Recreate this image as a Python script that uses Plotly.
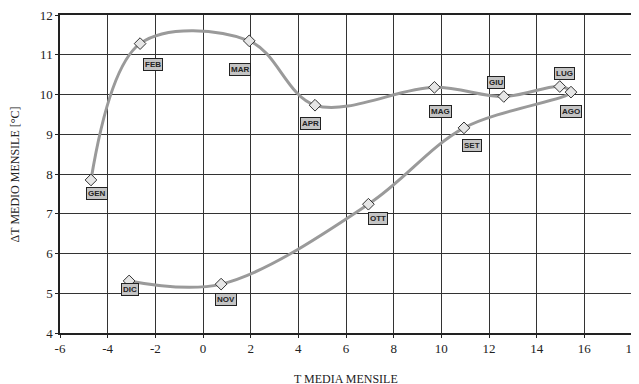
import plotly.graph_objects as go

months = ["GEN", "FEB", "MAR", "APR", "MAG", "GIU", "LUG", "AGO", "SET", "OTT", "NOV", "DIC"]
t_media = [-4.70, -2.64, 1.94, 4.70, 9.71, 12.62, 14.97, 15.44, 10.95, 6.94, 0.76, -3.10]
dt_medio = [7.85, 11.28, 11.35, 9.73, 10.18, 9.95, 10.20, 10.06, 9.16, 7.24, 5.23, 5.31]

x_ticks = list(range(-6, 19, 2))
y_ticks = list(range(4, 13, 1))

# label pixel offsets (style)
label_dx = [6, 13, -9, -5, 6, -8, 5, 0, 8, 10, 5, 1]
label_dy = [14, 21, 29, 18, 24, -14, -13, 19, 18, 14, 15, 9]

SERIF = "Liberation Serif, Times New Roman, serif"
SANS = "Liberation Sans, Arial, sans-serif"

fig = go.Figure()
fig.add_trace(go.Scatter(
    x=t_media, y=dt_medio, mode="lines+markers",
    line=dict(color="#9a9a9a", width=3, shape="spline", smoothing=1.0),
    marker=dict(symbol="diamond", size=9, color="#e6e6e6",
                line=dict(color="#333333", width=1)),
    showlegend=False, hoverinfo="skip",
))

for m, x, y, dx, dy in zip(months, t_media, dt_medio, label_dx, label_dy):
    fig.add_annotation(
        x=x, y=y, text="<b>%s</b>" % m, showarrow=False,
        xshift=dx, yshift=-dy,
        font=dict(family=SANS, size=8, color="#222222"),
        bgcolor="#c4c4c4", bordercolor="#222222", borderwidth=1, borderpad=1,
    )

axis_common = dict(
    showline=True, linecolor="#222222", linewidth=1.5, mirror=True,
    showgrid=True, gridcolor="#333333", gridwidth=1,
    zeroline=False, ticks="outside", ticklen=3, tickcolor="#222222",
    tickfont=dict(family=SERIF, size=13, color="#222222"),
    automargin=False, ticklabeloverflow="allow",
)

fig.update_xaxes(range=[-6, 18], tickvals=x_ticks, ticktext=[str(v) for v in x_ticks], **axis_common)
fig.update_yaxes(range=[4, 12], tickvals=y_ticks, ticktext=[str(v) for v in y_ticks], **axis_common)

fig.add_annotation(x=0.5, y=-0.115, xref="paper", yref="paper", xanchor="center", yanchor="top",
                   text="T MEDIA MENSILE", showarrow=False,
                   font=dict(family=SERIF, size=12, color="#222222"))
fig.add_annotation(x=-0.078, y=0.5, xref="paper", yref="paper", xanchor="center", yanchor="middle",
                   text="ΔT MEDIO MENSILE [°C]", showarrow=False, textangle=-90,
                   font=dict(family=SERIF, size=12, color="#222222"))

# page body has an 8px default margin; compensate (figure extends slightly past the window)
fig.update_layout(
    width=639, height=384,
    margin=dict(l=52, r=15, t=7, b=59),
    plot_bgcolor="white", paper_bgcolor="white",
    font=dict(family=SERIF),
)

fig.write_html("out.html")
